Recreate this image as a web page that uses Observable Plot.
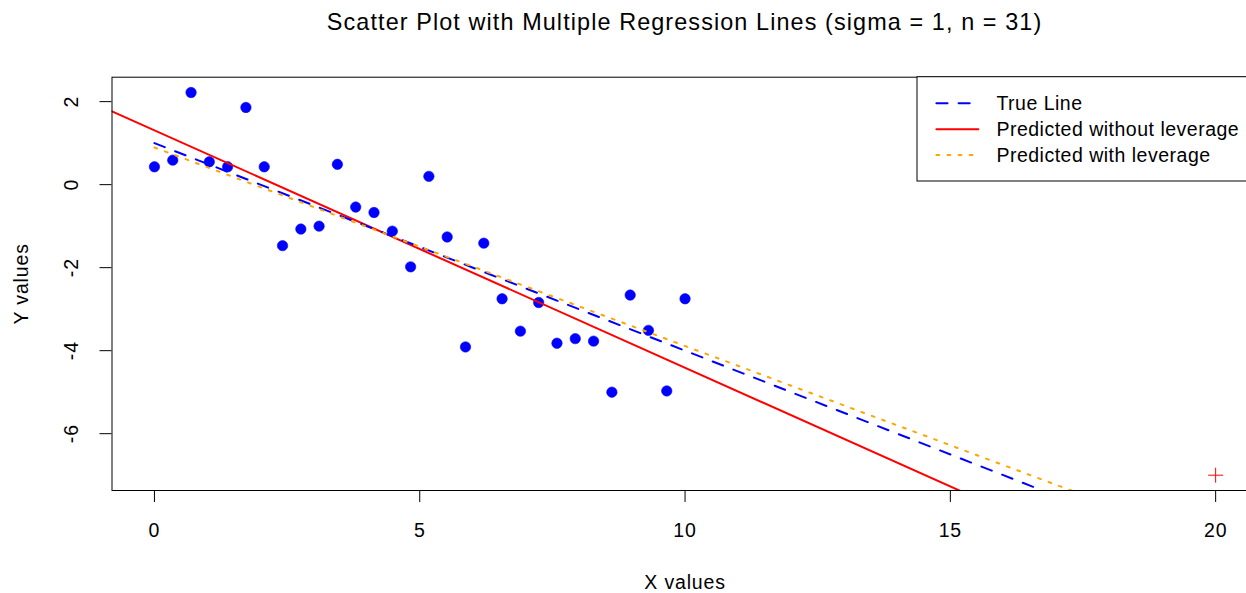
<!DOCTYPE html>
<html>
<head>
<meta charset="utf-8">
<script src="https://cdn.jsdelivr.net/npm/d3@7"></script>
<script src="https://cdn.jsdelivr.net/npm/@observablehq/plot@0.6"></script>
<style>
  body { margin: 0; background: white; }
  #wrap { position: relative; width: 1246px; height: 593px; overflow: hidden; background: white;
          font-family: "Liberation Sans", Arial, sans-serif; color: black; }
  #title { position: relative; height: 44px; }
  #title span { position: absolute; left: 684.6px; transform: translateX(-50%); white-space: nowrap;
                font-size: 23.4px; line-height: 44px; letter-spacing: 1.1px; }
</style>
</head>
<body>
<div id="wrap">
  <div id="title"><span>Scatter Plot with Multiple Regression Lines (sigma = 1, n = 31)</span></div>
  <div id="chart"></div>
</div>
<script>
// Observations: 30 evenly spaced x values on [0, 10]
const xValues = [0, 0.345, 0.690, 1.034, 1.379, 1.724, 2.069, 2.414, 2.759, 3.103,
                 3.448, 3.793, 4.138, 4.483, 4.828, 5.172, 5.517, 5.862, 6.207, 6.552,
                 6.897, 7.241, 7.586, 7.931, 8.276, 8.621, 8.966, 9.310, 9.655, 10];
const yValues = [0.43, 0.59, 2.22, 0.55, 0.43, 1.86, 0.43, -1.47, -1.07, -1.00,
                 0.49, -0.54, -0.67, -1.12, -1.98, 0.20, -1.26, -3.91, -1.41, -2.75,
                 -3.53, -2.84, -3.82, -3.71, -3.77, -5.00, -2.66, -3.51, -4.97, -2.75];

// The added high-leverage observation
const leverageX = [20];
const leverageY = [-7];

// True model: y = 1 - 0.5 x
const trueIntercept = 1;
const trueSlope = -0.5;

const xTicks = [0, 5, 10, 15, 20];
const yTicks = [-6, -4, -2, 0, 2];

const legendLabels = ["True Line", "Predicted without leverage", "Predicted with leverage"];
const legendColors = ["#0000ff", "#ff0000", "#ffa500"];

const points = xValues.map((x, i) => ({x, y: yValues[i]}));
const leverage = leverageX.map((x, i) => ({x, y: leverageY[i]}));

// Ordinary least squares fit
function fit(data) {
  const mx = d3.mean(data, d => d.x), my = d3.mean(data, d => d.y);
  const sxy = d3.sum(data, d => (d.x - mx) * (d.y - my));
  const sxx = d3.sum(data, d => (d.x - mx) ** 2);
  const b = sxy / sxx;
  return {a: my - b * mx, b};
}
const fitNoLev = fit(points);
const fitLev = fit(points.concat(leverage));

// Axis limits padded 4% as in base graphics
const allX = points.concat(leverage).map(d => d.x);
const allY = points.concat(leverage).map(d => d.y);
const pad = ([lo, hi]) => [lo - 0.04 * (hi - lo), hi + 0.04 * (hi - lo)];
const xDomain = pad(d3.extent(allX));
const yDomain = pad(d3.extent(allY));

const segment = (c, x0, x1) => [x0, x1].map(x => ({x, y: c.a + c.b * x}));
const trueLine = segment({a: trueIntercept, b: trueSlope}, 0, 20);
const noLevLine = segment(fitNoLev, xDomain[0], xDomain[1]);
const levLine = segment(fitLev, 0, 20);

const dashes = ["11.1,11.1", null, "2.8,8.3"];

const fontSize = 19.5;
const marginTop = 32.7, marginLeft = 111.5, marginRight = -11.6, marginBottom = 103;

const chart = Plot.plot({
  width: 1246,
  height: 549,
  marginTop, marginLeft, marginRight, marginBottom,
  style: {fontFamily: "'Liberation Sans', Arial, sans-serif", fontSize: fontSize + "px", color: "black",
          background: "white", letterSpacing: "0.85px"},
  x: {domain: xDomain},
  y: {domain: yDomain},
  marks: [
    Plot.axisX(xTicks, {tickSize: 12, tickFormat: () => "", label: null, stroke: "black"}),
    Plot.axisY(yTicks, {tickSize: 12, tickFormat: () => "", label: null, stroke: "black"}),
    Plot.text(xTicks, {x: d => d, text: d => String(d), frameAnchor: "bottom", dy: 40.5, lineAnchor: "middle", fontSize}),
    Plot.text(yTicks, {y: d => d, text: d => String(d), frameAnchor: "left", dx: -40, rotate: -90, textAnchor: "middle", lineAnchor: "middle", fontSize}),
    Plot.text(["X values"], {frameAnchor: "bottom", dy: 92, lineAnchor: "middle", fontSize}),
    Plot.text(["Y values"], {frameAnchor: "left", dx: -90, rotate: -90, textAnchor: "middle", lineAnchor: "middle", fontSize}),
    Plot.dot(points, {x: "x", y: "y", r: 5.2, fill: "#0000ff", stroke: "#0000ff", strokeWidth: 0.6}),
    Plot.dot(leverage, {x: "x", y: "y", symbol: "plus", r: 4.9, stroke: "#ff0000", strokeWidth: 1}),
    Plot.line(noLevLine, {x: "x", y: "y", stroke: legendColors[1], strokeWidth: 2, clip: true}),
    Plot.line(trueLine, {x: "x", y: "y", stroke: legendColors[0], strokeWidth: 2, strokeDasharray: dashes[0], strokeLinecap: "round", clip: true}),
    Plot.line(levLine, {x: "x", y: "y", stroke: legendColors[2], strokeWidth: 2, strokeDasharray: dashes[2], strokeLinecap: "round", clip: true}),
    Plot.frame({stroke: "black", strokeWidth: 1})
  ]
});

// Legend box anchored at the top-right corner of the plotting region
const xRange = chart.scale("x").range;
const legendWidth = 340.6, legendHeight = 104.3;
const lx = xRange[1] - legendWidth, ly = marginTop;
const g = d3.select(chart).append("g").attr("font-size", fontSize).attr("text-anchor", "start")
  .style("letter-spacing", "0.5px");
g.append("rect").attr("x", lx).attr("y", ly).attr("width", legendWidth).attr("height", legendHeight)
  .attr("fill", "white").attr("stroke", "black");
legendLabels.forEach((label, i) => {
  const cy = ly + 26.6 + i * 25.9;
  g.append("line").attr("x1", lx + 19.4).attr("x2", lx + 61.4).attr("y1", cy).attr("y2", cy)
    .attr("stroke", legendColors[i]).attr("stroke-width", 2).attr("stroke-linecap", "round")
    .attr("stroke-dasharray", dashes[i]);
  g.append("text").attr("x", lx + 79.4).attr("y", cy).attr("dy", "0.35em").attr("fill", "black")
    .attr("text-anchor", "start").text(label);
});

document.getElementById("chart").append(chart);
</script>
</body>
</html>
